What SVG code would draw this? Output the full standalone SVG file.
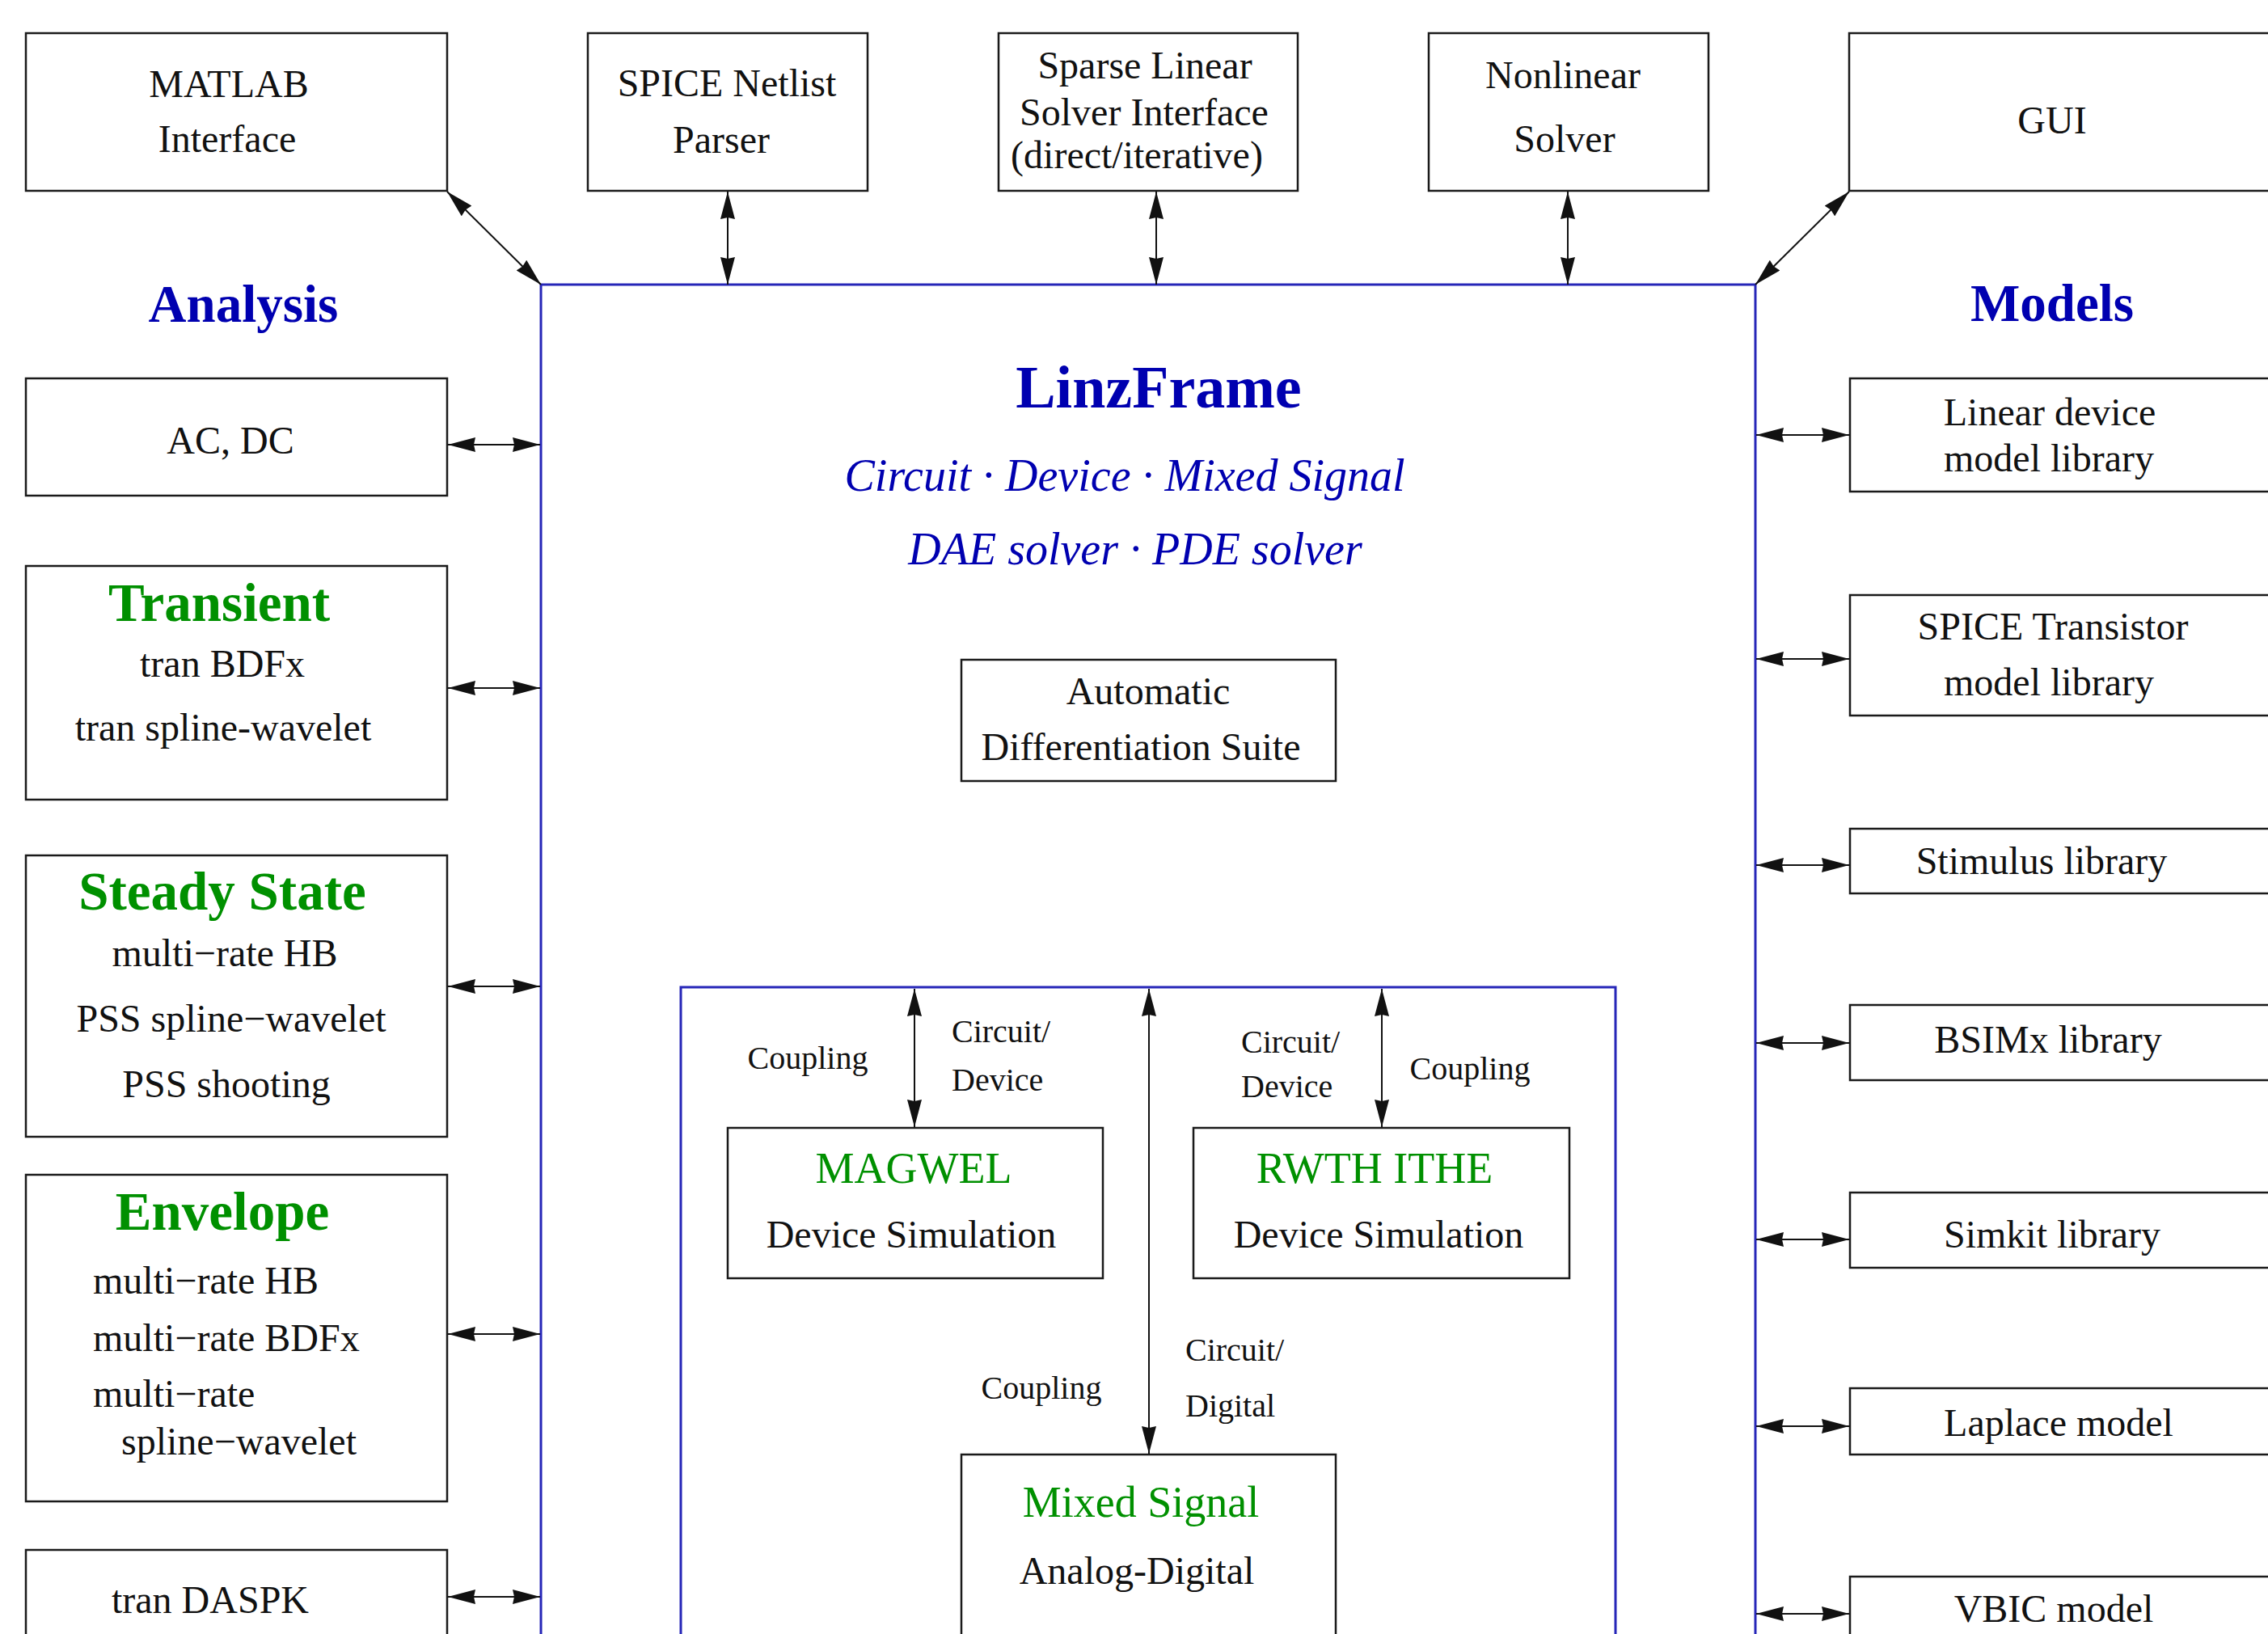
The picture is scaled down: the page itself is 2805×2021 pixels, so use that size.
<svg xmlns="http://www.w3.org/2000/svg" width="2805" height="2021" viewBox="0 0 2805 2021">
<style>
.bx{fill:none;stroke:#1a1a1a;stroke-width:2.5}
.bb{fill:none;stroke:#2626b8;stroke-width:3}
.t{font-family:"Liberation Serif","Times New Roman",serif;fill:#111;text-anchor:middle}
.m{font-size:48px}
.s{font-size:40px}
.l{text-anchor:start}
.hd{font-size:65px;font-weight:bold;fill:#0000b0}
.gt{font-size:67px;font-weight:bold;fill:#009000}
.gr{font-size:54px;fill:#009000}
.bi{font-size:56px;font-style:italic;fill:#0000b0}
.cn{stroke:#111;stroke-width:2;fill:none;marker-start:url(#ah);marker-end:url(#ah)}
</style>
<defs>
<marker id="ah" markerUnits="userSpaceOnUse" viewBox="0 0 34 18" markerWidth="34" markerHeight="18" refX="34" refY="9" orient="auto-start-reverse">
<path d="M0,0 L34,9 L0,18 L2,9 z" fill="#111"/>
</marker>
</defs>
<rect width="2805" height="2021" fill="#fff"/>

<g id="linzframe">
<rect class="bb" x="669" y="352" width="1502" height="1760"/>
<text class="t" x="1433" y="504" style="font-size:74px;font-weight:bold;fill:#0000b0">LinzFrame</text>
<text class="t bi" x="1391" y="607">Circuit · Device · Mixed Signal</text>
<text class="t bi" x="1404" y="698">DAE solver · PDE solver</text>
</g>

<g id="label-analysis"><text class="t hd" x="301" y="398">Analysis</text></g>
<g id="label-models"><text class="t hd" x="2538" y="397">Models</text></g>

<g id="matlab"><rect class="bx" x="32" y="41" width="521" height="195"/>
<text class="t m" x="283" y="120">MATLAB</text><text class="t m" x="281" y="188">Interface</text></g>
<g id="spice-netlist"><rect class="bx" x="727" y="41" width="346" height="195"/>
<text class="t m" x="899" y="119">SPICE Netlist</text><text class="t m" x="892" y="189">Parser</text></g>
<g id="sparse-linear"><rect class="bx" x="1235" y="41" width="370" height="195"/>
<text class="t m" x="1416" y="97">Sparse Linear</text><text class="t m" x="1415" y="155">Solver Interface</text><text class="t m" x="1406" y="208">(direct/iterative)</text></g>
<g id="nonlinear"><rect class="bx" x="1767" y="41" width="346" height="195"/>
<text class="t m" x="1933" y="109">Nonlinear</text><text class="t m" x="1935" y="188">Solver</text></g>
<g id="gui"><rect class="bx" x="2287" y="41" width="600" height="195"/>
<text class="t m" x="2538" y="165">GUI</text></g>

<g id="acdc"><rect class="bx" x="32" y="468" width="521" height="145"/>
<text class="t m" x="285" y="561">AC, DC</text></g>
<g id="transient"><rect class="bx" x="32" y="700" width="521" height="289"/>
<text class="t gt" x="271" y="768">Transient</text>
<text class="t m" x="275" y="837">tran BDFx</text>
<text class="t m" x="276" y="916">tran spline-wavelet</text></g>
<g id="steady-state"><rect class="bx" x="32" y="1058" width="521" height="348"/>
<text class="t gt" x="275" y="1125">Steady State</text>
<text class="t m" x="278" y="1195">multi−rate HB</text>
<text class="t m" x="286" y="1276">PSS spline−wavelet</text>
<text class="t m" x="280" y="1357">PSS shooting</text></g>
<g id="envelope"><rect class="bx" x="32" y="1453" width="521" height="404"/>
<text class="t gt" x="275" y="1521">Envelope</text>
<text class="t m l" x="115" y="1600">multi−rate HB</text>
<text class="t m l" x="115" y="1671">multi−rate BDFx</text>
<text class="t m l" x="115" y="1740">multi−rate</text>
<text class="t m l" x="150" y="1799">spline−wavelet</text></g>
<g id="daspk"><rect class="bx" x="32" y="1917" width="521" height="200"/>
<text class="t m" x="260" y="1995">tran DASPK</text></g>

<g id="linear-device"><rect class="bx" x="2288" y="468" width="600" height="140"/>
<text class="t m" x="2535" y="526">Linear device</text><text class="t m" x="2534" y="583">model library</text></g>
<g id="spice-transistor"><rect class="bx" x="2288" y="736" width="600" height="149"/>
<text class="t m" x="2539" y="791">SPICE Transistor</text><text class="t m" x="2534" y="860">model library</text></g>
<g id="stimulus"><rect class="bx" x="2288" y="1025" width="600" height="80"/>
<text class="t m" x="2525" y="1081">Stimulus library</text></g>
<g id="bsimx"><rect class="bx" x="2288" y="1243" width="600" height="93"/>
<text class="t m" x="2533" y="1302">BSIMx library</text></g>
<g id="simkit"><rect class="bx" x="2288" y="1475" width="600" height="93"/>
<text class="t m" x="2538" y="1543">Simkit library</text></g>
<g id="laplace"><rect class="bx" x="2288" y="1717" width="600" height="82"/>
<text class="t m" x="2546" y="1776">Laplace model</text></g>
<g id="vbic"><rect class="bx" x="2288" y="1950" width="600" height="200"/>
<text class="t m" x="2540" y="2006">VBIC model</text></g>

<g id="autodiff"><rect class="bx" x="1189" y="816" width="463" height="150"/>
<text class="t m" x="1420" y="871">Automatic</text><text class="t m" x="1411" y="940">Differentiation Suite</text></g>

<g id="coupling-box"><rect class="bb" x="842" y="1221" width="1156" height="900"/></g>
<g id="magwel"><rect class="bx" x="900" y="1395" width="464" height="186"/>
<text class="t gr" x="1130" y="1463">MAGWEL</text><text class="t m" x="1127" y="1543">Device Simulation</text></g>
<g id="rwth"><rect class="bx" x="1476" y="1395" width="465" height="186"/>
<text class="t gr" x="1700" y="1463">RWTH ITHE</text><text class="t m" x="1705" y="1543">Device Simulation</text></g>
<g id="mixed-signal"><rect class="bx" x="1189" y="1799" width="463" height="300"/>
<text class="t gr" x="1411" y="1876">Mixed Signal</text><text class="t m" x="1406" y="1959">Analog-Digital</text></g>

<g id="connectors">
<line class="cn" x1="553" y1="237" x2="669" y2="352"/>
<line class="cn" x1="900" y1="237" x2="900" y2="352"/>
<line class="cn" x1="1430" y1="237" x2="1430" y2="352"/>
<line class="cn" x1="1939" y1="237" x2="1939" y2="352"/>
<line class="cn" x1="2171" y1="352" x2="2287" y2="237"/>
<line class="cn" x1="554" y1="550" x2="668" y2="550"/>
<line class="cn" x1="554" y1="851" x2="668" y2="851"/>
<line class="cn" x1="554" y1="1220" x2="668" y2="1220"/>
<line class="cn" x1="554" y1="1650" x2="668" y2="1650"/>
<line class="cn" x1="554" y1="1975" x2="668" y2="1975"/>
<line class="cn" x1="2172" y1="538" x2="2287" y2="538"/>
<line class="cn" x1="2172" y1="815" x2="2287" y2="815"/>
<line class="cn" x1="2172" y1="1070" x2="2287" y2="1070"/>
<line class="cn" x1="2172" y1="1290" x2="2287" y2="1290"/>
<line class="cn" x1="2172" y1="1533" x2="2287" y2="1533"/>
<line class="cn" x1="2172" y1="1764" x2="2287" y2="1764"/>
<line class="cn" x1="2172" y1="1996" x2="2287" y2="1996"/>
<line class="cn" x1="1131" y1="1223" x2="1131" y2="1394"/>
<line class="cn" x1="1421" y1="1223" x2="1421" y2="1798"/>
<line class="cn" x1="1709" y1="1223" x2="1709" y2="1394"/>
<text class="t s" x="999" y="1322">Coupling</text>
<text class="t s l" x="1177" y="1289">Circuit/</text>
<text class="t s l" x="1177" y="1349">Device</text>
<text class="t s l" x="1535" y="1302">Circuit/</text>
<text class="t s l" x="1535" y="1357">Device</text>
<text class="t s" x="1818" y="1335">Coupling</text>
<text class="t s" x="1288" y="1730">Coupling</text>
<text class="t s l" x="1466" y="1683">Circuit/</text>
<text class="t s l" x="1466" y="1752">Digital</text>
</g>
</svg>
